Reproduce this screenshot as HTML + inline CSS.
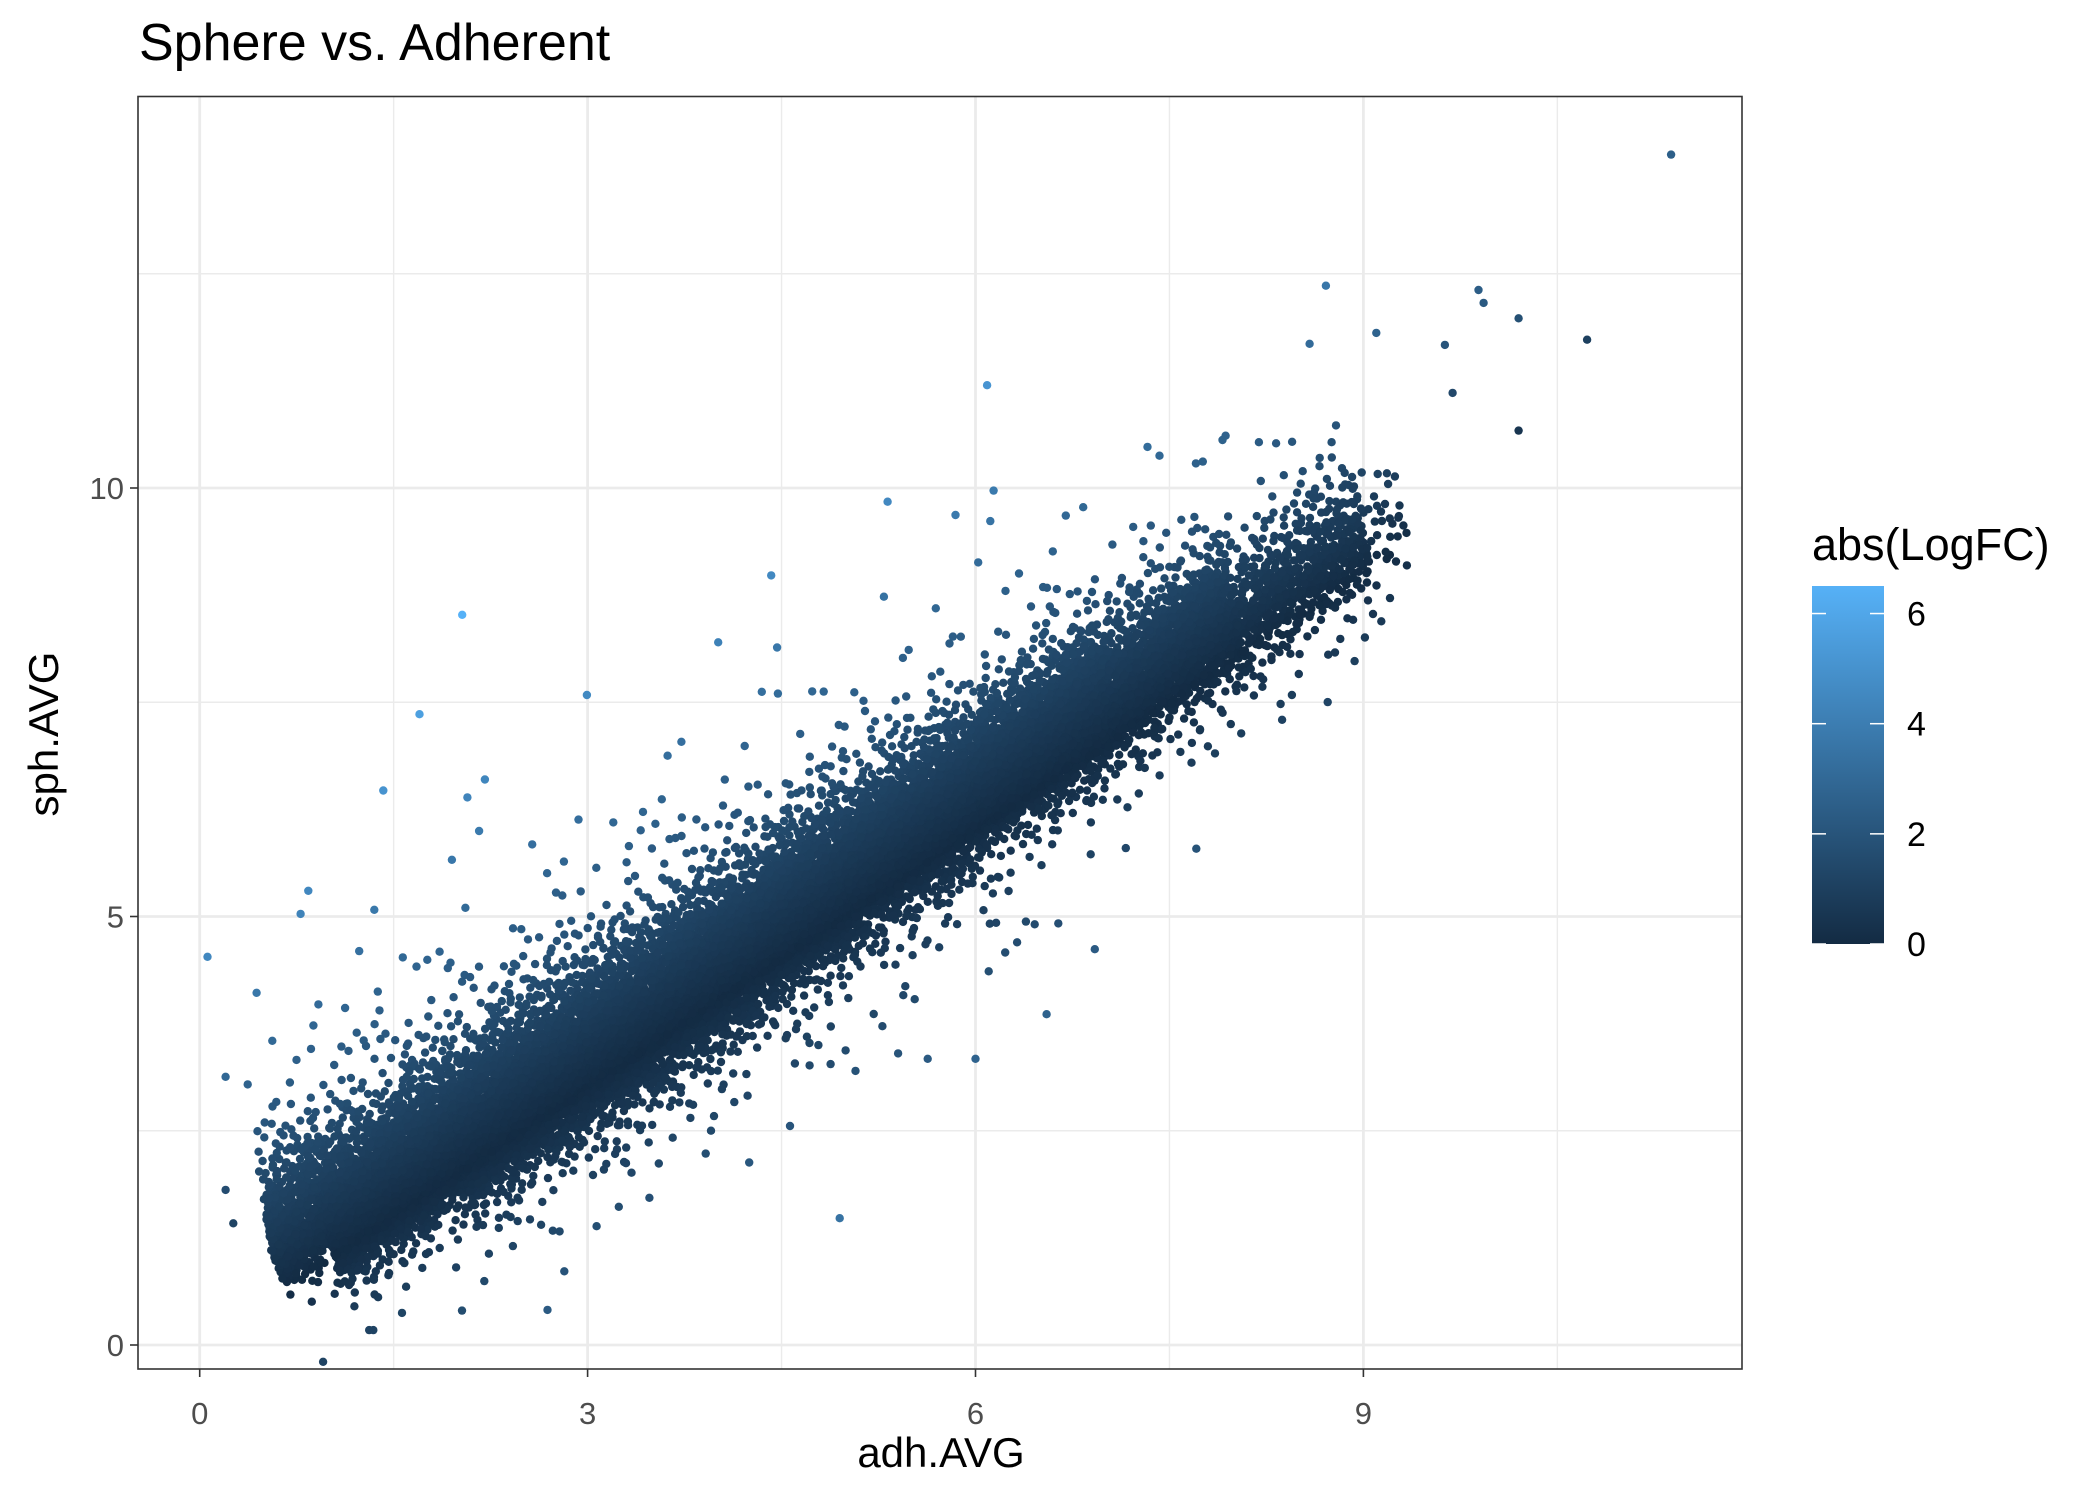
<!DOCTYPE html>
<html><head><meta charset="utf-8"><style>
html,body{margin:0;padding:0;background:#fff;}
svg{display:block;font-family:"Liberation Sans",Arial,sans-serif;}
</style></head><body>
<svg id="chart" width="2100" height="1500" viewBox="0 0 2100 1500">
<defs><linearGradient id="cb" x1="0" y1="1" x2="0" y2="0">
<stop offset="0" stop-color="#132B43"/><stop offset="1" stop-color="#56B1F7"/></linearGradient>
<clipPath id="pc"><rect x="138" y="96.5" width="1604" height="1272.5"/></clipPath></defs>
<text x="139" y="60" font-size="52" fill="#000">Sphere vs. Adherent</text>
<g id="grid"></g>
<g id="pts" clip-path="url(#pc)"></g>
<rect x="138" y="96.5" width="1604" height="1272.5" fill="none" stroke="#333" stroke-width="1.6"/>
<g id="axes"></g>
<text x="941" y="1467" font-size="42" text-anchor="middle" fill="#000">adh.AVG</text>
<text transform="translate(58,734) rotate(-90)" font-size="42" text-anchor="middle" fill="#000">sph.AVG</text>
<g>
<text x="1812" y="560" font-size="45" fill="#000">abs(LogFC)</text>
<rect x="1812" y="586" width="72" height="358" fill="url(#cb)"/>
<g id="leg"></g>
</g>
</svg>
<script>
const xTicks=[0,3,6,9];
const yTicks=[0,5,10];
const xMinor=[1.5,4.5,7.5,10.5];
const yMinor=[2.5,7.5,12.5];
const legTicks=[0,2,4,6];
const legMax=6.5;
// outlier points: adh, sph
const outX=[11.38,8.71,9.89,9.93,10.2,10.73,9.1,9.63,6.09,10.2,9.69,5.32,6.14,4.42,2.03,1.70,1.42,0.06,4.95,2.69,6.55,6.0,5.63,5.28,6.23,6.64,6.39,8.5,8.36,8.78,0.2,0.26,0.2,0.44,0.84,0.78,2.07,9.03,7.91,7.33,4.25,2.82,4.01];
const outY=[13.89,12.36,12.31,12.16,11.98,11.73,11.81,11.67,11.2,10.67,11.11,9.84,9.97,8.98,8.52,7.36,6.47,4.53,1.48,0.41,3.86,3.34,3.34,3.72,4.58,4.92,4.94,7.83,7.48,8.08,1.81,1.42,3.13,4.11,5.3,5.03,6.39,9.2,10.56,10.48,2.13,0.86,8.2];
// dense band: x-bin starts, relative density, band centre (sph) at bin middle, upper/lower spread
const binStart=[0.55,1,2,3,4,5,6,7,8,9];
const binWeight=[0.7,1,1,1,1,1,0.9,0.65,0.3,0.06];
const binCentre=[1.35,1.8,2.8,3.85,4.9,5.95,7.0,8.0,8.95,9.6];
const binUpper=[0.5,0.55,0.55,0.52,0.48,0.45,0.43,0.42,0.42,0.36];
const binLower=[0.2,0.25,0.33,0.37,0.36,0.34,0.32,0.3,0.3,0.27];

const NS="http://www.w3.org/2000/svg";
const X0=199.7, XS=129.3, Y0=1345, YS=85.7;
const sx=v=>X0+v*XS, sy=v=>Y0-v*YS;
const L=138,R=1742,T=96.5,B=1369;
function el(t,a,p){const e=document.createElementNS(NS,t);for(const k in a)e.setAttribute(k,a[k]);p.appendChild(e);return e;}
const grid=document.getElementById('grid'),axes=document.getElementById('axes'),pts=document.getElementById('pts');
el('rect',{x:L,y:T,width:R-L,height:B-T,fill:'#fff'},grid);
xMinor.forEach(v=>{const l=el('line',{x1:sx(v),x2:sx(v),y1:T,y2:B,stroke:'#EBEBEB','stroke-width':1.4},grid);

});
yMinor.forEach(v=>{const l=el('line',{x1:L,x2:R,y1:sy(v),y2:sy(v),stroke:'#EBEBEB','stroke-width':1.4},grid);

});
xTicks.forEach(v=>{const l=el('line',{x1:sx(v),x2:sx(v),y1:T,y2:B,stroke:'#EBEBEB','stroke-width':2.8},grid);


el('line',{x1:sx(v),x2:sx(v),y1:B,y2:B+8,stroke:'#333','stroke-width':1.6},axes);
const t=el('text',{x:sx(v),y:1424,'font-size':31,'text-anchor':'middle',fill:'#4D4D4D'},axes);t.textContent=v;

});
yTicks.forEach(v=>{const l=el('line',{x1:L,x2:R,y1:sy(v),y2:sy(v),stroke:'#EBEBEB','stroke-width':2.8},grid);


el('line',{x1:L-8,x2:L,y1:sy(v),y2:sy(v),stroke:'#333','stroke-width':1.6},axes);
const t=el('text',{x:L-14,y:sy(v)+11,'font-size':31,'text-anchor':'end',fill:'#4D4D4D'},axes);t.textContent=v;

});
// legend
const leg=document.getElementById('leg');
const ly=v=>944-v/legMax*358;
legTicks.forEach(v=>{
el('line',{x1:1812,x2:1826,y1:ly(v),y2:ly(v),stroke:'#fff','stroke-width':1.5},leg);
el('line',{x1:1870,x2:1884,y1:ly(v),y2:ly(v),stroke:'#fff','stroke-width':1.5},leg);
const t=el('text',{x:1907,y:ly(v)+12,'font-size':34,fill:'#000'},leg);t.textContent=v;

});
function col(v){let f=Math.min(1,Math.abs(v)/legMax);
const a=[0x13,0x2B,0x43],b=[0x56,0xB1,0xF7];
return 'rgb('+a.map((c,i)=>Math.round(c+(b[i]-c)*f)).join(',')+')';}
function halton(i,b){let f=1,r=0;while(i>0){f/=b;r+=f*(i%b);i=Math.floor(i/b);}return r;}
function invn(p){p=Math.min(Math.max(p,1e-6),1-1e-6);const t=Math.sqrt(-2*Math.log(p<0.5?p:1-p));
const z=t-(2.515517+0.802853*t+0.010328*t*t)/(1+1.432788*t+0.189269*t*t+0.001308*t*t*t);return p<0.5?-z:z;}
const dense=[];
let idx=1;
binStart.forEach((b0,k)=>{const b1=k<binStart.length-1?binStart[k+1]:9.3;
const n=Math.round(binWeight[k]*1900*(b1-b0));
const mid=(b0+b1)/2;
for(let j=0;j<n;j++,idx++){const x=b0+halton(idx,2)*(b1-b0);
let z=invn(halton(idx,3));const m=halton(idx,5);if(m>0.85)z*=1.8;if(m>0.97)z*=1.5;
const ctr=binCentre[k]+(x-mid)*1.05;const y=ctr+z*(z>0?binUpper[k]:binLower[k]);
dense.push([x-z*0.05,y]);}});
const g1=el('g',{},pts);
dense.forEach(p=>{el('circle',{cx:sx(p[0]).toFixed(1),cy:sy(p[1]).toFixed(1),r:4.2,fill:col(p[1]-p[0])},g1);});
outX.forEach((x,i)=>{const c=el('circle',{cx:sx(x).toFixed(1),cy:sy(outY[i]).toFixed(1),r:4.2,fill:col(outY[i]-x)},pts);

});
</script>
</body></html>
